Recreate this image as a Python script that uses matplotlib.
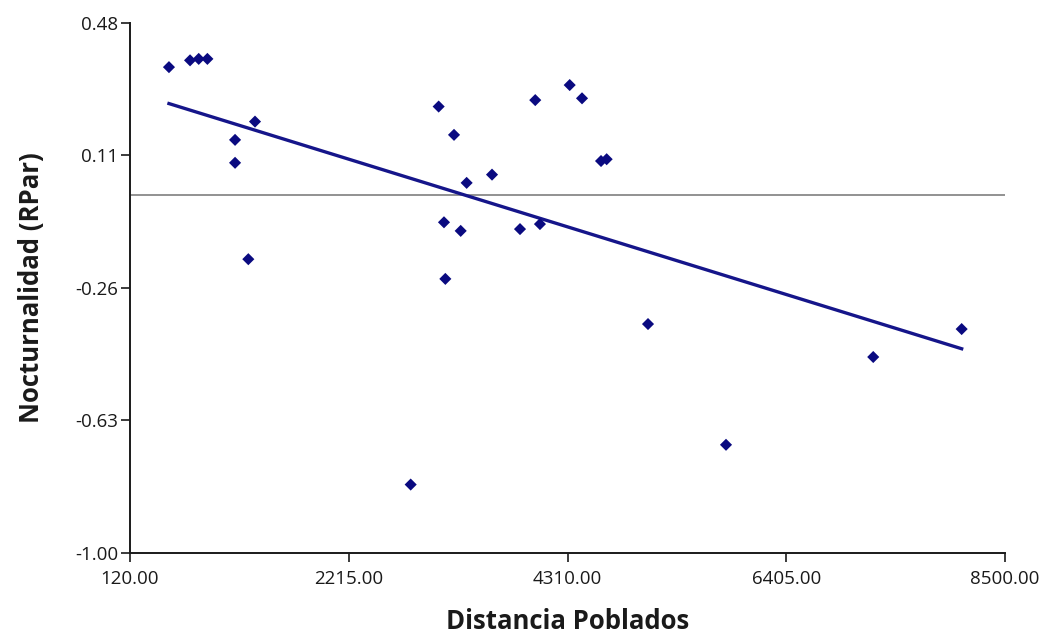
import numpy as np
import matplotlib
matplotlib.use("Agg")
import matplotlib.pyplot as plt

# datos
distancia = [493, 695, 778, 861, 1126, 1126, 1253, 1317,
             2808, 3076, 3127, 3140, 3223, 3287, 3344, 3587,
             3855, 4001, 4046, 4331, 4449, 4631, 4685,
             5081, 5828, 7238, 8085]
nocturnalidad = [0.356, 0.375, 0.379, 0.379, 0.153, 0.089, -0.180, 0.204,
                 -0.809, 0.246, -0.077, -0.235, 0.167, -0.101, 0.033, 0.056,
                 -0.096, 0.264, -0.082, 0.306, 0.269, 0.094, 0.099,
                 -0.361, -0.698, -0.453, -0.375]

x_ticks = [120.00, 2215.00, 4310.00, 6405.00, 8500.00]
y_ticks = [-1.00, -0.63, -0.26, 0.11, 0.48]

plt.rcParams['font.family'] = ['Open Sans', 'DejaVu Sans']

fig = plt.figure(figsize=(10.46, 6.36), dpi=100)
ax = fig.add_axes([0.1243, 0.1305, 0.8365, 0.8338])

x = np.array(distancia)
y = np.array(nocturnalidad)

# linea de cero
ax.axhline(0, color='#7f7f7f', lw=1.2, zorder=1)

# recta de regresion
m, b = np.polyfit(x, y, 1)
xs = np.array([x.min(), x.max()])
ax.plot(xs, m * xs + b, color='#15158a', lw=2.4, zorder=2)

ax.scatter(x, y, marker='D', s=38, color='#0a0a80', edgecolors='none', zorder=3)

ax.set_xlim(x_ticks[0], x_ticks[-1])
ax.set_ylim(y_ticks[0], y_ticks[-1])
ax.set_xticks(x_ticks)
ax.set_yticks(y_ticks)
ax.set_xticklabels(['%.2f' % v for v in x_ticks])
ax.set_yticklabels(['%.2f' % v for v in y_ticks])

for s in ['top', 'right']:
    ax.spines[s].set_visible(False)
for s in ['left', 'bottom']:
    ax.spines[s].set_linewidth(1.4)
    ax.spines[s].set_color('#1a1a1a')

ax.tick_params(axis='both', direction='out', length=6.5, width=1.2,
               labelsize=13.5, colors='#1a1a1a')
ax.tick_params(axis='x', pad=6)
ax.tick_params(axis='y', pad=2)

ax.set_xlabel('Distancia Poblados', fontsize=18.5, fontweight='bold',
              color='#1a1a1a', labelpad=14)
ax.set_ylabel('Nocturnalidad (RPar)', fontsize=18.5, fontweight='bold',
              color='#1a1a1a', labelpad=22)

fig.savefig('out.png', dpi=100)
